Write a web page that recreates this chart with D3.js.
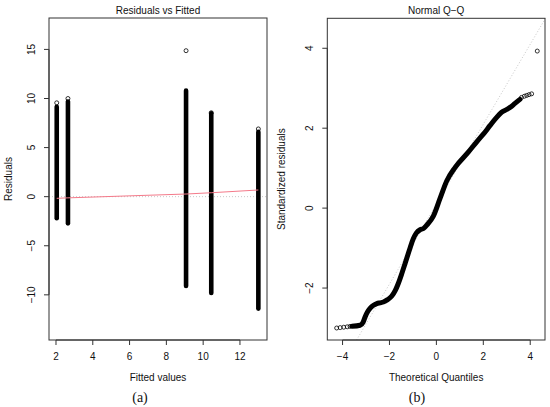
<!DOCTYPE html>
<html>
<head>
<meta charset="utf-8">
<style>
  body { margin: 0; background: #fff; }
  svg { display: block; }
  text { font-family: "Liberation Sans", Arial, Helvetica, sans-serif; fill: #111; }
  .cap { font-family: "Liberation Serif", "DejaVu Serif", serif; }
</style>
</head>
<body>
<svg></svg>
<script src="https://cdnjs.cloudflare.com/ajax/libs/d3/7.8.5/d3.min.js"></script>
<script>
// ---- panel (a): residuals vs fitted ----
const fittedLevels = [2.04, 2.65, 9.07, 10.44, 13.0];
const residLow = [-2.2, -2.72, -9.1, -9.8, -11.4];
const residHigh = [9.15, 9.7, 10.8, 8.5, 6.6];
const residTopX = [2.04, 2.65, 9.07, 10.44, 13.0];
const residTopY = [9.56, 10.0, 14.87, 8.55, 6.9];
const smoothY = [-0.17, -0.12, 0.27, 0.4, 0.68];
const fittedTicks = [2, 4, 6, 8, 10, 12];
const residTicks = [-10, -5, 0, 5, 10, 15];

// ---- panel (b): normal Q-Q ----
const qqTheo = [-3.6, -3.25, -3.12, -3.03, -2.92, -2.82, -2.68, -2.54, -2.4, -2.26, -2.08, -1.9, -1.75, -1.62,
  -1.47, -1.33, -1.15, -0.98, -0.85, -0.69, -0.55, -0.4, -0.13, 0.16, 0.44, 0.8, 1.36, 1.72, 2.0, 2.29, 2.55,
  2.78, 3.0, 3.14, 3.35, 3.56];
const qqStd = [-2.955, -2.93, -2.85, -2.71, -2.58, -2.5, -2.43, -2.39, -2.37, -2.35, -2.29, -2.2, -2.06, -1.88,
  -1.63, -1.38, -1.05, -0.76, -0.62, -0.54, -0.51, -0.42, -0.2, 0.25, 0.68, 1.02, 1.4, 1.66, 1.85, 2.07, 2.26,
  2.4, 2.47, 2.52, 2.62, 2.72];
const qqEndTheo = [-4.25, -4.1, -3.95, -3.8, -3.68, 3.63, 3.75, 3.85, 3.95, 4.06, 4.3];
const qqEndStd = [-3.0, -2.99, -2.98, -2.97, -2.96, 2.77, 2.8, 2.82, 2.84, 2.86, 3.93];
const qqLine = [0.1, 1.0]; // intercept, slope
const theoTicks = [-4, -2, 0, 2, 4];
const stdTicks = [-2, 0, 2, 4];

const W = 550, H = 407;
const svg = d3.select('svg').attr('width', W).attr('height', H);
const fs = 10;

function drawFrame(x, y, xt, yt, title, xlab, ylab, ylabX, cap, capX) {
  const [x0, x1] = x.range(), [y1, y0] = y.range();
  const g = svg.append('g');
  g.append('rect').attr('x', x0).attr('y', y0).attr('width', x1 - x0).attr('height', y1 - y0)
    .attr('fill', 'none').attr('stroke', '#333').attr('stroke-width', 1);
  // x axis
  g.append('line').attr('x1', x(xt[0])).attr('x2', x(xt[xt.length - 1]))
    .attr('y1', y1).attr('y2', y1).attr('stroke', '#333');
  xt.forEach(t => {
    g.append('line').attr('x1', x(t)).attr('x2', x(t)).attr('y1', y1).attr('y2', y1 + 5).attr('stroke', '#333');
    g.append('text').attr('x', x(t)).attr('y', y1 + 20).attr('text-anchor', 'middle')
      .attr('font-size', fs).text(String(t).replace('-', '\u2212'));
  });
  // y axis
  g.append('line').attr('x1', x0).attr('x2', x0)
    .attr('y1', y(yt[0])).attr('y2', y(yt[yt.length - 1])).attr('stroke', '#333');
  yt.forEach(t => {
    g.append('line').attr('x1', x0 - 5).attr('x2', x0).attr('y1', y(t)).attr('y2', y(t)).attr('stroke', '#333');
    g.append('text').attr('transform', `translate(${x0 - 14},${y(t)}) rotate(-90)`)
      .attr('text-anchor', 'middle').attr('font-size', fs).text(String(t).replace('-', '\u2212'));
  });
  const cx = (x0 + x1) / 2;
  g.append('text').attr('x', cx).attr('y', 14).attr('text-anchor', 'middle').attr('font-size', fs).text(title);
  g.append('text').attr('x', cx).attr('y', 381).attr('text-anchor', 'middle').attr('font-size', fs).text(xlab);
  g.append('text').attr('transform', `translate(${ylabX},${(y0 + y1) / 2}) rotate(-90)`)
    .attr('text-anchor', 'middle').attr('font-size', fs).text(ylab);
  g.append('text').attr('class', 'cap').attr('x', capX).attr('y', 402).attr('text-anchor', 'middle')
    .attr('font-size', 14).text(cap);
}

// panel (a)
const xa = d3.scaleLinear().domain([1.62, 13.47]).range([49, 267]);
const ya = d3.scaleLinear().domain([-14.6, 18.2]).range([340, 18]);
const ga = svg.append('g');
ga.append('line').attr('x1', 49).attr('x2', 267).attr('y1', ya(0)).attr('y2', ya(0))
  .attr('stroke', '#c8c8c8').attr('stroke-dasharray', '1,2');
ga.selectAll('line.col').data(fittedLevels).join('line').attr('class', 'col')
  .attr('x1', d => xa(d)).attr('x2', d => xa(d))
  .attr('y1', (d, i) => ya(residLow[i])).attr('y2', (d, i) => ya(residHigh[i]))
  .attr('stroke', '#000').attr('stroke-width', 4.6).attr('stroke-linecap', 'round');
ga.selectAll('circle').data(residTopX).join('circle')
  .attr('cx', d => xa(d)).attr('cy', (d, i) => ya(residTopY[i])).attr('r', 2)
  .attr('fill', 'none').attr('stroke', '#000').attr('stroke-width', 0.8);
ga.append('path').datum(fittedLevels)
  .attr('d', d3.line().x(d => xa(d)).y((d, i) => ya(smoothY[i])))
  .attr('fill', 'none').attr('stroke', '#f47a8a').attr('stroke-width', 1);
drawFrame(xa, ya, fittedTicks, residTicks, 'Residuals vs Fitted', 'Fitted values', 'Residuals', 12, '(a)', 140);

// panel (b)
const xb = d3.scaleLinear().domain([-4.65, 4.63]).range([327.3, 545]);
const yb = d3.scaleLinear().domain([-3.3, 4.75]).range([340, 18.3]);
const gb = svg.append('g');
const lx = [(-3.3 - qqLine[0]) / qqLine[1], (4.75 - qqLine[0]) / qqLine[1]];
gb.append('line').attr('x1', xb(lx[0])).attr('x2', xb(lx[1]))
  .attr('y1', yb(qqLine[0] + qqLine[1] * lx[0])).attr('y2', yb(qqLine[0] + qqLine[1] * lx[1]))
  .attr('stroke', '#c8c8c8').attr('stroke-dasharray', '1,2');
gb.append('path').datum(qqTheo)
  .attr('d', d3.line().curve(d3.curveMonotoneX).x(d => xb(d)).y((d, i) => yb(qqStd[i])))
  .attr('fill', 'none').attr('stroke', '#000').attr('stroke-width', 5).attr('stroke-linecap', 'round');
gb.selectAll('circle').data(qqEndTheo).join('circle')
  .attr('cx', d => xb(d)).attr('cy', (d, i) => yb(qqEndStd[i])).attr('r', 2)
  .attr('fill', 'none').attr('stroke', '#000').attr('stroke-width', 0.8);
drawFrame(xb, yb, theoTicks, stdTicks, 'Normal Q\u2212Q', 'Theoretical Quantiles', 'Standardized residuals', 285, '(b)', 417);
</script>
</body>
</html>
